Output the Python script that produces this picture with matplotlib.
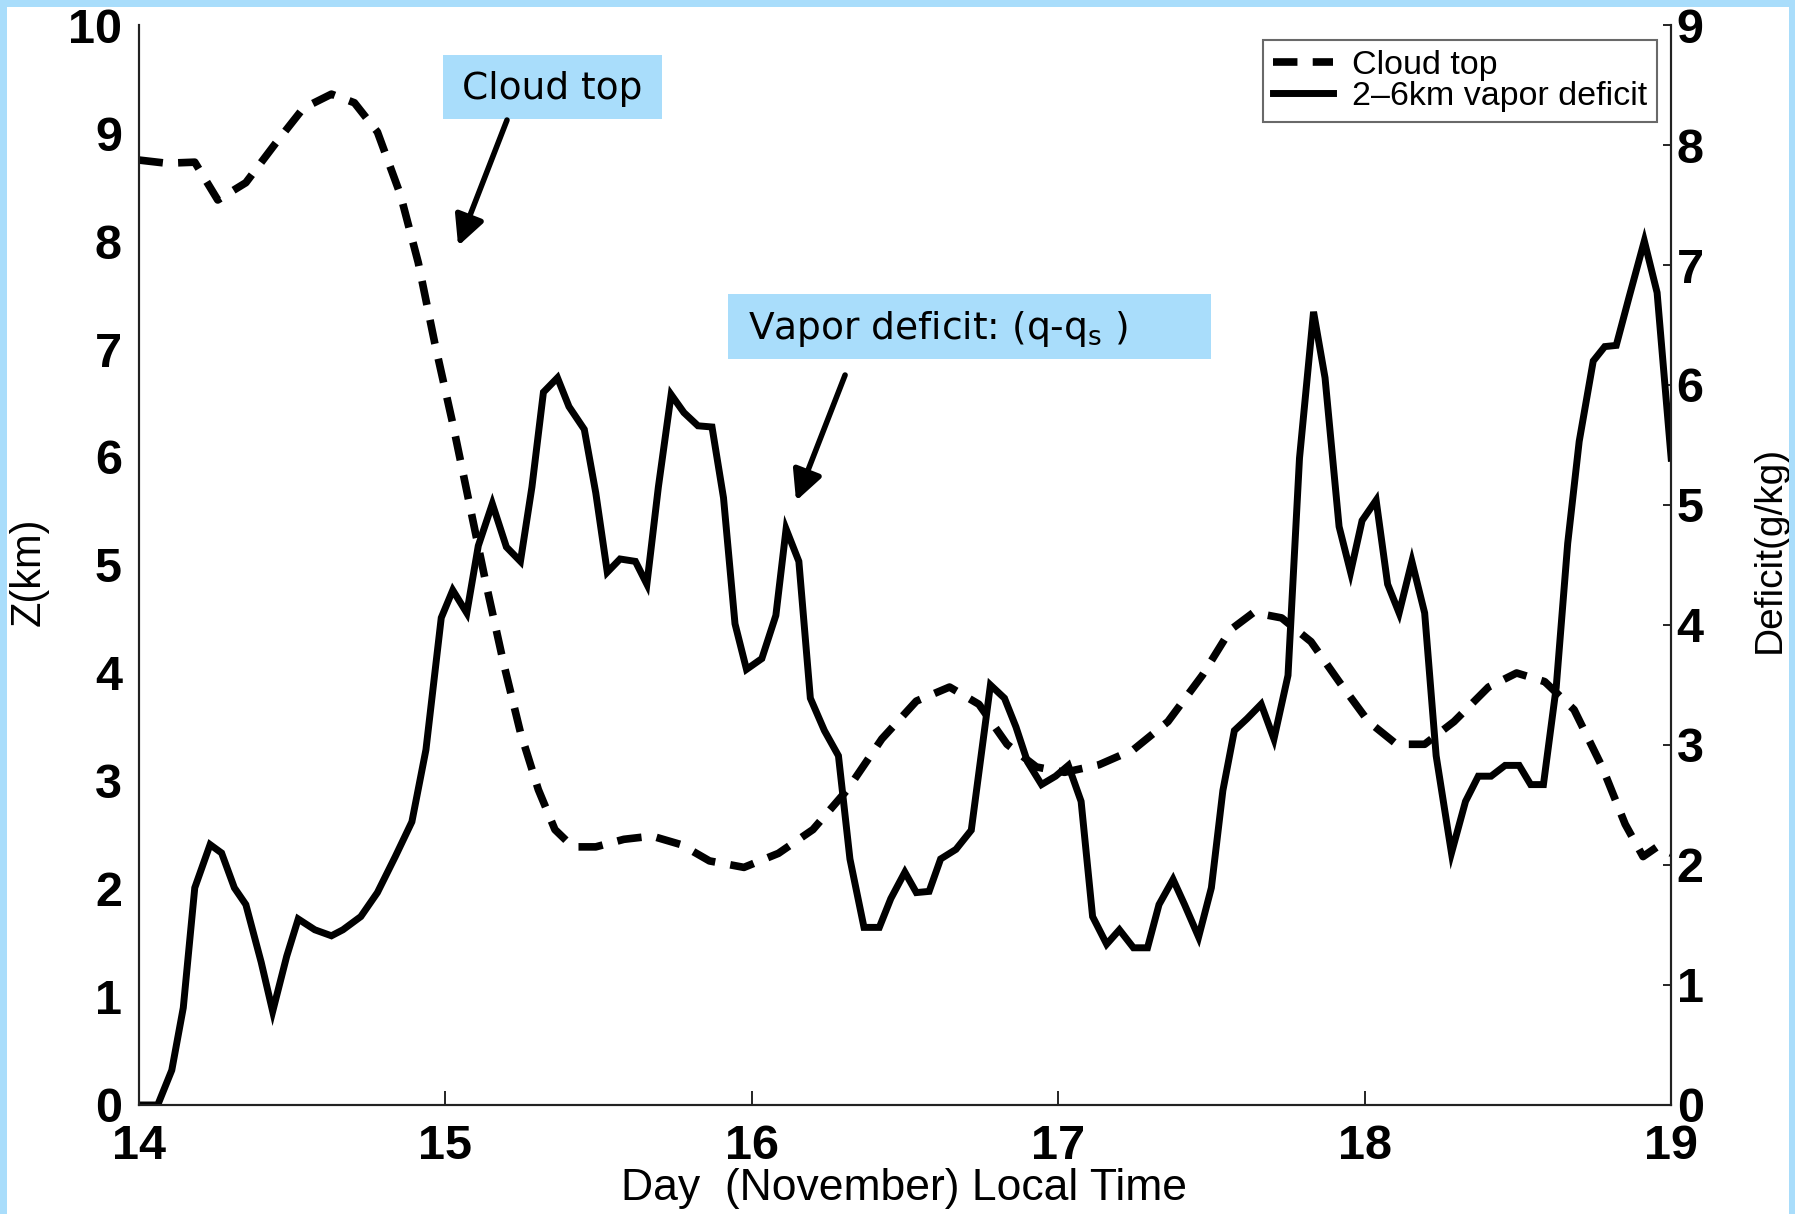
import numpy as np
import matplotlib.pyplot as plt
from matplotlib.patches import Rectangle

plt.rcParams['font.family'] = ['Liberation Sans', 'DejaVu Sans']

# hours since 00 LT on 14 November
cloud_hours = [0, 2.2, 4.4, 6.2, 8.4, 10.7, 12.9, 15.1, 16.9, 18.7, 20.5, 21.9, 23.2, 24.6,
               25.9, 27.2, 28.6, 29.9, 31.3, 32.6, 34.0, 35.8, 38.0, 40.2, 42.5, 44.7, 47.4,
               50.1, 52.8, 55.5, 58.2, 60.9, 63.5, 65.8, 68.0, 70.3, 72.5, 75.2, 77.9, 80.6,
               83.3, 85.5, 87.3, 89.5, 91.8, 94.0, 96.3, 98.5, 100.7, 103.0, 105.7, 107.9,
               110.1, 112.4, 114.6, 116.4, 117.8, 118.9, 120]
cloud_top = [8.75, 8.72, 8.73, 8.38, 8.54, 8.90, 9.23, 9.36, 9.28, 9.01, 8.43, 7.80, 7.05, 6.31,
             5.57, 4.83, 4.08, 3.45, 2.92, 2.55, 2.39, 2.39, 2.46, 2.49, 2.41, 2.26, 2.20,
             2.33, 2.55, 2.92, 3.39, 3.74, 3.87, 3.71, 3.34, 3.13, 3.08, 3.15, 3.29, 3.55,
             3.98, 4.40, 4.56, 4.51, 4.29, 3.92, 3.55, 3.34, 3.34, 3.55, 3.87, 4.00,
             3.92, 3.66, 3.13, 2.60, 2.30, 2.39, 2.33]

deficit_hours = [0, 1.5, 2.6, 3.5, 4.4, 5.6, 6.5, 7.5, 8.4, 9.6, 10.5, 11.6, 12.5, 13.8, 15.1,
                 16.0, 17.4, 18.7, 20.1, 21.4, 22.5, 23.7, 24.6, 25.7, 26.6, 27.7, 28.8, 29.9,
                 30.8, 31.7, 32.8, 33.7, 34.9, 35.8, 36.7, 37.7, 38.9, 39.8, 40.7, 41.7, 42.7,
                 43.8, 44.9, 45.8, 46.7, 47.6, 48.8, 49.9, 50.7, 51.7, 52.6, 53.7, 54.8, 55.7,
                 56.8, 58.0, 58.9, 60.0, 60.9, 61.9, 62.8, 64.0, 65.2, 66.7, 67.8, 68.7, 69.6,
                 70.7, 71.8, 72.8, 73.8, 74.7, 75.8, 76.8, 77.9, 79.0, 79.9, 81.0, 81.9, 83.0,
                 84.0, 84.9, 85.8, 86.8, 87.9, 88.9, 90.0, 90.9, 92.0, 92.9, 94.0, 94.9, 95.8,
                 96.9, 97.8, 98.7, 99.7, 100.7, 101.6, 102.8, 103.9, 104.9, 105.9, 107.0, 108.1,
                 109.0, 110.0, 111.0, 111.9, 112.8, 113.9, 114.8, 115.7, 116.7, 117.9, 118.9, 120]
deficit = [0, 0, 0.29, 0.81, 1.81, 2.17, 2.10, 1.81, 1.67, 1.19, 0.78, 1.24, 1.55, 1.46, 1.41,
           1.46, 1.57, 1.77, 2.07, 2.36, 2.96, 4.06, 4.29, 4.10, 4.66, 5.01, 4.65, 4.53,
           5.15, 5.94, 6.06, 5.82, 5.63, 5.10, 4.44, 4.55, 4.53, 4.34, 5.15, 5.92, 5.77,
           5.66, 5.65, 5.06, 4.01, 3.63, 3.72, 4.08, 4.80, 4.53, 3.39, 3.12, 2.91, 2.05,
           1.48, 1.48, 1.72, 1.94, 1.77, 1.78, 2.05, 2.13, 2.29, 3.50, 3.39, 3.15, 2.86,
           2.67, 2.74, 2.83, 2.53, 1.57, 1.34, 1.46, 1.31, 1.31, 1.67, 1.88, 1.67, 1.40,
           1.81, 2.62, 3.12, 3.22, 3.34, 3.05, 3.58, 5.39, 6.61, 6.06, 4.82, 4.44, 4.87,
           5.04, 4.34, 4.10, 4.53, 4.10, 2.91, 2.10, 2.53, 2.74, 2.74, 2.83, 2.83,
           2.67, 2.67, 3.48, 4.68, 5.53, 6.20, 6.32, 6.33, 6.73, 7.20, 6.77, 5.39]

day_ticks = [14, 15, 16, 17, 18, 19]
z_ticks = list(range(0, 11))
deficit_ticks = list(range(0, 10))

sky = '#a9ddfb'

t_cloud = 14 + np.array(cloud_hours) / 24.0
t_def = 14 + np.array(deficit_hours) / 24.0

fig = plt.figure(figsize=(17.95, 12.14), dpi=100, facecolor='white')
ax = fig.add_axes([0.0772, 0.0898, 0.8538, 0.8896])
ax2 = ax.twinx()

l1, = ax.plot(t_cloud, cloud_top, color='black', lw=5.5, dashes=(3.2, 2.0), label='Cloud top')
l2, = ax2.plot(t_def, deficit, color='black', lw=5.0, solid_joinstyle='miter',
               label='2\u20136km vapor deficit')

ax.set_xlim(14, 19)
ax.set_ylim(0, 10)
ax2.set_ylim(0, 9)
ax.set_xticks(day_ticks)
ax.set_yticks(z_ticks)
ax2.set_yticks(deficit_ticks)

for a in (ax, ax2):
    a.spines['top'].set_visible(False)
    for s in a.spines.values():
        s.set_linewidth(1.5)
        s.set_color('#222222')
ax.tick_params(axis='x', direction='in', length=10, width=1.2, pad=14, labelsize=35)
ax.tick_params(axis='y', direction='in', length=0, pad=12, labelsize=35)
ax2.tick_params(axis='y', direction='in', length=6, width=1.2, pad=4, labelsize=35)
for lab in ax.get_xticklabels() + ax.get_yticklabels() + ax2.get_yticklabels():
    lab.set_fontweight('bold')

ax.set_xlabel('Day  (November) Local Time', fontsize=32)
ax.xaxis.set_label_coords(0.4995, -0.058)
ax.set_ylabel('Z(km)', fontsize=30)
ax.yaxis.set_label_coords(-0.059, 0.4935)
ax2.set_ylabel('Deficit(g/kg)', fontsize=28)
ax2.yaxis.set_label_coords(1.0526, 0.514)

leg = ax2.legend([l1, l2], ['Cloud top', '2\u20136km vapor deficit'], loc='upper right',
                 bbox_to_anchor=(0.9909, 0.9861), borderaxespad=0, fontsize=24.5,
                 fancybox=False, handlelength=1.75, handletextpad=0.55, labelspacing=0.0,
                 borderpad=0.3)
leg.get_frame().set_edgecolor('#444444')
leg.get_frame().set_linewidth(1.5)

# callout boxes
ax2.add_patch(Rectangle((0.1987, 0.9130), 0.1429, 0.0592, transform=ax.transAxes,
                        facecolor=sky, edgecolor='none', zorder=5))
ax2.text(0.2698, 0.9407, 'Cloud top', transform=ax.transAxes, ha='center', va='center',
         fontsize=27, family='DejaVu Sans', zorder=6)
ax2.annotate('', xy=(0.2085, 0.7954), xytext=(0.2404, 0.9120), xycoords='axes fraction',
             arrowprops=dict(arrowstyle='-|>', lw=4, color='black', mutation_scale=45,
                             shrinkA=0, shrinkB=0), zorder=6)

ax2.add_patch(Rectangle((0.3847, 0.6907), 0.3151, 0.0602, transform=ax.transAxes,
                        facecolor=sky, edgecolor='none', zorder=5))
ax2.text(0.3974, 0.7185, r'Vapor deficit: (q-q$_\mathregular{s}$ )', transform=ax.transAxes,
         ha='left', va='center', fontsize=27, family='DejaVu Sans', zorder=6)
ax2.annotate('', xy=(0.4290, 0.5593), xytext=(0.4610, 0.6759), xycoords='axes fraction',
             arrowprops=dict(arrowstyle='-|>', lw=4, color='black', mutation_scale=45,
                             shrinkA=0, shrinkB=0), zorder=6)

# light blue frame around the page
W, H = 1795.0, 1214.0
for x0, y0, w, h in [(0, 0, 7 / W, 1), (1 - 6 / W, 0, 6 / W, 1), (0, 1 - 7 / H, 1, 7 / H)]:
    fig.patches.append(Rectangle((x0, y0), w, h, transform=fig.transFigure,
                                 facecolor=sky, edgecolor='none', zorder=10))

fig.savefig('out.png', dpi=100, facecolor='white')
